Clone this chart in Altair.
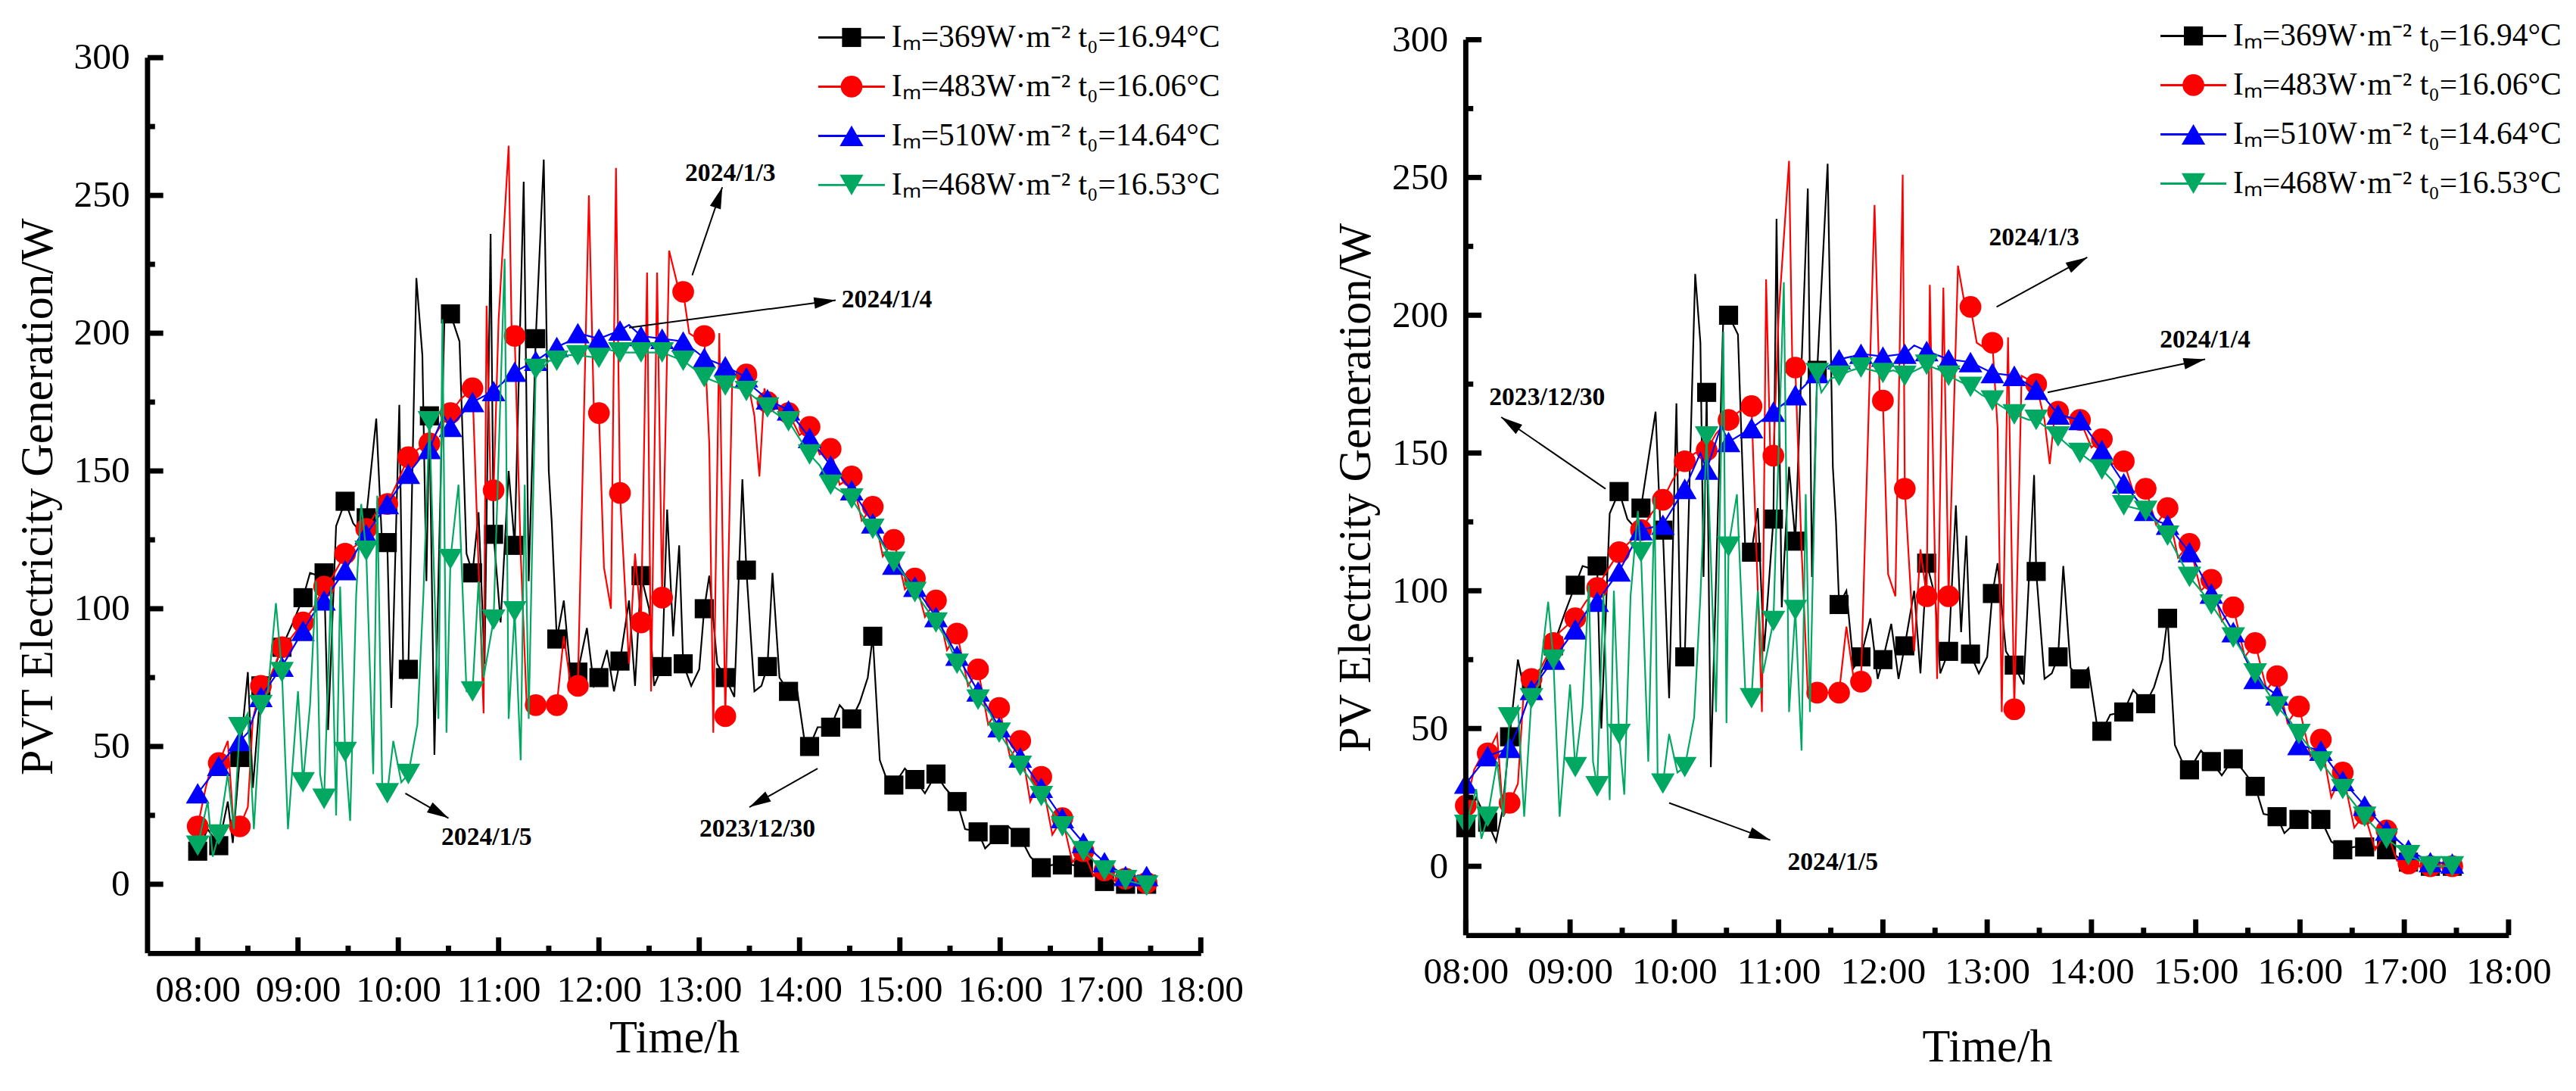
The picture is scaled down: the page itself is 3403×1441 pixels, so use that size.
import math
import altair as alt
import pandas as pd

FONT = "Liberation Serif"

# ---------------- data ----------------
MARKER_T = [8.00, 8.21, 8.42, 8.63, 8.84, 9.05, 9.26, 9.47, 9.68, 9.89,
            10.10, 10.31, 10.52, 10.74, 10.95, 11.16, 11.37, 11.58, 11.79, 12.00,
            12.21, 12.42, 12.63, 12.84, 13.05, 13.26, 13.47, 13.68, 13.89, 14.10,
            14.31, 14.52, 14.73, 14.94, 15.15, 15.36, 15.57, 15.78, 15.99, 16.20,
            16.41, 16.62, 16.83, 17.04, 17.25, 17.46]

LEGEND_LABELS = ["Iₘ=369W·m⁻²  t₀=16.94°C",
                 "Iₘ=483W·m⁻²  t₀=16.06°C",
                 "Iₘ=510W·m⁻²  t₀=14.64°C",
                 "Iₘ=468W·m⁻²  t₀=16.53°C"]

# ---- PVT (left) markers ----
PVT_BLACK = [12, 14, 46, 72, 86, 104, 113, 139, 133, 124, 78, 170, 207, 113, 127, 123, 198, 89, 77, 75,
             81, 112, 79, 80, 100, 75, 114, 79, 70, 50, 57, 60, 90, 36, 38, 40, 30, 19, 18, 17,
             6, 7, 6, 1, 0, 0]
PVT_RED = [21, 44, 21, 72, 86, 95, 108, 120, 129, 138, 155, 160, 171, 180, 143, 199, 65, 65, 72, 171,
           142, 95, 104, 215, 199, 61, 185, 175, 171, 166, 158, 148, 137, 125, 111, 103, 91, 78, 64, 52,
           39, 24, 12, 5, 2, 0.5]
PVT_BLUE = [33, 43, 52, 68, 79, 92, 103, 114, 127, 138, 149, 158, 166, 175, 179, 186, 190, 195, 200, 198,
            201, 199, 198, 197, 191, 188, 184, 176, 172, 162, 152, 143, 131, 116, 108, 97, 83, 70, 57, 46,
            35, 24, 15, 8, 3, 3]
PVT_GREEN = [14, 18, 57, 65, 77, 37, 31, 48, 121, 33, 40, 168, 118, 70, 96, 99, 187, 190, 192, 191,
             193, 193, 193, 190, 184, 181, 179, 173, 168, 156, 145, 140, 129, 117, 106, 95, 80, 67, 55, 43,
             32, 21, 12, 5, 1.5, -0.5]

# ---- PVT (left) extra line points between markers (time, value) ----
PVT_BLACK_X = [(8.10, 20), (8.30, 30), (8.35, 15), (8.50, 77), (8.55, 35), (8.72, 74), (8.95, 95), (9.12, 113),
               (9.20, 112), (9.30, 56), (9.38, 130), (9.55, 131), (9.62, 128), (9.78, 169), (9.84, 122),
               (9.93, 64), (10.01, 174), (10.05, 75), (10.18, 220), (10.24, 192), (10.28, 110), (10.36, 47),
               (10.46, 206), (10.61, 197), (10.68, 120), (10.80, 135), (10.86, 80), (10.92, 236), (11.02, 95),
               (11.10, 150), (11.25, 255), (11.30, 110), (11.45, 263), (11.50, 150), (11.53, 131), (11.65, 103),
               (11.72, 75), (11.88, 93), (11.95, 72), (12.08, 85), (12.15, 70), (12.30, 103), (12.36, 72),
               (12.50, 100), (12.55, 72), (12.68, 136), (12.74, 90), (12.80, 123), (12.92, 72), (13.00, 78),
               (13.10, 112), (13.18, 80), (13.35, 68), (13.43, 147), (13.55, 70), (13.62, 72), (13.73, 113),
               (13.80, 75), (13.97, 72), (14.05, 52), (14.18, 57), (14.40, 65), (14.60, 66), (14.68, 75),
               (14.80, 45), (14.87, 38), (15.05, 42), (15.25, 33), (15.45, 35), (15.65, 20), (15.85, 13),
               (16.08, 21), (16.30, 10), (16.52, 7), (16.72, 7), (16.95, 3), (17.15, 0)]
PVT_RED_X = [(8.08, 35), (8.15, 45), (8.30, 52), (8.36, 20), (8.50, 28), (8.55, 60), (8.72, 75), (8.90, 88),
             (9.15, 100), (9.35, 112), (9.58, 123), (9.78, 135), (9.98, 145), (10.20, 158), (10.40, 165),
             (10.62, 176), (10.85, 62), (10.88, 210), (10.92, 143), (11.00, 205), (11.10, 268), (11.13, 200),
             (11.22, 120), (11.28, 65), (11.48, 65), (11.65, 90), (11.72, 72), (11.90, 250), (11.95, 171),
             (12.05, 115), (12.12, 100), (12.17, 260), (12.30, 80), (12.36, 120), (12.48, 222), (12.52, 70),
             (12.58, 222), (12.70, 230), (12.78, 218), (12.90, 200), (12.98, 198), (13.10, 160), (13.14, 55),
             (13.20, 200), (13.33, 185), (13.55, 170), (13.60, 148), (13.65, 180), (13.80, 173), (14.00, 163),
             (14.20, 156), (14.40, 145), (14.62, 132), (14.83, 119), (15.05, 107), (15.25, 97), (15.47, 85),
             (15.68, 72), (15.88, 58), (16.10, 46), (16.30, 30), (16.52, 18), (16.72, 8), (16.93, 3),
             (17.15, 1), (17.35, 0)]
PVT_BLUE_X = [(8.50, 55), (9.15, 98), (10.25, 156), (10.45, 170), (11.70, 197), (12.30, 203), (13.55, 180),
              (14.65, 136)]
PVT_GREEN_X = [(8.10, 30), (8.15, 10), (8.30, 40), (8.36, 20), (8.50, 62), (8.56, 20), (8.70, 70), (8.78, 102),
               (8.90, 20), (9.00, 70), (9.12, 65), (9.18, 110), (9.22, 40), (9.33, 108), (9.38, 25), (9.42, 108),
               (9.52, 23), (9.58, 105), (9.63, 138), (9.75, 40), (9.79, 141), (9.84, 35), (9.95, 52), (10.03, 37),
               (10.19, 58), (10.25, 105), (10.40, 60), (10.44, 205), (10.48, 55), (10.60, 145), (10.68, 70),
               (10.80, 110), (10.85, 75), (11.06, 227), (11.10, 60), (11.22, 45), (11.26, 145), (11.30, 60),
               (11.41, 186), (11.50, 190), (11.70, 192), (12.10, 194), (12.55, 193), (12.95, 187), (13.40, 180),
               (13.80, 170), (14.20, 152), (14.62, 134), (15.05, 112), (15.48, 88), (15.90, 62), (16.30, 38),
               (16.72, 16), (17.15, 3)]

# ---- PV (right) markers ----
PV_BLACK = [14, 16, 47, 67, 80, 102, 109, 136, 130, 122, 76, 172, 200, 114, 126, 118, 180, 95, 76, 75,
            80, 110, 78, 77, 99, 73, 107, 76, 68, 49, 56, 59, 90, 35, 38, 39, 29, 18, 17, 17,
            6, 7, 6, 1.5, 0, 0]
PV_RED = [22, 41, 23, 68, 81, 90, 101, 114, 122, 133, 147, 151, 162, 167, 149, 181, 63, 63, 67, 169,
          137, 98, 98, 203, 190, 57, 175, 165, 162, 155, 147, 137, 130, 117, 104, 94, 81, 69, 58, 46,
          34, 19, 13, 1, 0, 0]
PV_BLUE = [30, 40, 43, 64, 75, 86, 96, 107, 122, 124, 137, 144, 154, 159, 165, 171, 179, 184, 186, 185,
           186, 187, 184, 183, 179, 178, 173, 164, 162, 151, 139, 129, 124, 114, 99, 85, 68, 62, 44, 42,
           31, 22, 13, 6, 1.5, 1]
PV_GREEN = [15, 18, 54, 61, 75, 36, 29, 48, 114, 30, 36, 156, 116, 61, 89, 93, 179, 178, 181, 179,
            178, 182, 178, 174, 169, 164, 162, 156, 150, 144, 131, 129, 120, 105, 95, 83, 70, 58, 48, 38,
            28, 18, 10, 4, 0, 0]

PV_BLACK_X = [(8.10, 25), (8.29, 9), (8.35, 20), (8.50, 75), (8.56, 64), (8.72, 70), (8.95, 92), (9.12, 109),
              (9.20, 108), (9.30, 50), (9.38, 128), (9.55, 126), (9.62, 123), (9.82, 165), (9.87, 120),
              (9.95, 61), (10.02, 168), (10.06, 75), (10.20, 215), (10.25, 190), (10.28, 105), (10.35, 36),
              (10.47, 200), (10.61, 193), (10.68, 115), (10.80, 130), (10.86, 78), (10.98, 235), (11.03, 94),
              (11.10, 145), (11.28, 246), (11.32, 105), (11.47, 255), (11.52, 145), (11.55, 125), (11.65, 100),
              (11.72, 72), (11.88, 90), (11.95, 68), (12.08, 88), (12.15, 68), (12.30, 100), (12.36, 70),
              (12.50, 98), (12.55, 70), (12.70, 131), (12.75, 85), (12.80, 120), (12.92, 70), (13.00, 76),
              (13.10, 110), (13.18, 78), (13.35, 66), (13.45, 142), (13.55, 68), (13.62, 70), (13.73, 109),
              (13.80, 72), (13.97, 72), (14.05, 52), (14.18, 55), (14.40, 64), (14.60, 65), (14.68, 75),
              (14.80, 44), (14.87, 38), (15.05, 42), (15.25, 33), (15.45, 35), (15.65, 19), (15.85, 12),
              (16.08, 20), (16.30, 9), (16.52, 7), (16.72, 7), (16.95, 3), (17.15, 0)]
PV_RED_X = [(8.08, 35), (8.15, 40), (8.30, 48), (8.36, 18), (8.50, 30), (8.55, 60), (8.72, 72), (8.90, 85),
            (9.15, 96), (9.35, 107), (9.58, 118), (9.78, 128), (9.98, 140), (10.20, 150), (10.40, 157),
            (10.62, 165), (10.84, 56), (10.88, 213), (10.92, 150), (11.00, 200), (11.10, 256), (11.13, 185),
            (11.22, 115), (11.28, 63), (11.48, 63), (11.65, 87), (11.72, 68), (11.92, 240), (11.97, 170),
            (12.05, 106), (12.12, 98), (12.19, 251), (12.30, 78), (12.36, 115), (12.45, 211), (12.52, 68),
            (12.58, 210), (12.72, 218), (12.78, 205), (12.90, 190), (12.98, 188), (13.10, 159), (13.14, 56),
            (13.20, 192), (13.33, 178), (13.55, 162), (13.60, 146), (13.65, 165), (13.80, 162), (14.00, 152),
            (14.20, 146), (14.40, 136), (14.62, 124), (14.83, 112), (15.05, 100), (15.25, 89), (15.47, 76),
            (15.68, 64), (15.88, 52), (16.10, 40), (16.30, 25), (16.52, 14), (16.72, 6), (16.93, 2),
            (17.15, 0)]
PV_BLUE_X = [(8.50, 50), (9.15, 92), (10.25, 150), (10.45, 160), (11.70, 185), (12.30, 189), (13.55, 170),
             (14.65, 125)]
PV_GREEN_X = [(8.10, 28), (8.15, 10), (8.30, 38), (8.36, 18), (8.50, 58), (8.56, 18), (8.70, 66), (8.79, 96),
              (8.90, 18), (9.00, 66), (9.12, 58), (9.18, 102), (9.22, 38), (9.32, 99), (9.38, 24), (9.42, 100),
              (9.52, 26), (9.58, 98), (9.65, 129), (9.75, 38), (9.81, 134), (9.84, 32), (9.95, 48), (10.03, 34),
              (10.19, 54), (10.25, 98), (10.40, 56), (10.47, 194), (10.50, 52), (10.60, 135), (10.68, 64),
              (10.80, 100), (10.85, 70), (11.05, 212), (11.10, 56), (11.22, 42), (11.26, 135), (11.30, 56),
              (11.41, 172), (11.50, 177), (11.70, 180), (12.10, 180), (12.55, 180), (12.95, 171), (13.40, 162),
              (13.80, 152), (14.20, 140), (14.62, 125), (15.05, 100), (15.48, 76), (15.90, 53), (16.30, 33),
              (16.72, 14), (17.15, 2)]

# ---- annotations (label, text position, arrow tail, arrow head) ----
ANN_LABELS = ["2024/1/3", "2024/1/4", "2024/1/5", "2023/12/30"]
PVT_ANN_TEXT = [(13.31, 258), (14.87, 212), (10.88, 17), (13.58, 20)]
PVT_ANN_TAIL = [(12.93, 221), (12.30, 202), (10.07, 33), (14.18, 42)]
PVT_ANN_HEAD = [(13.23, 253), (14.36, 212), (10.50, 24), (13.50, 28)]
PV_ANN_TEXT = [(13.45, 228), (15.09, 191), (11.52, 1.5), (8.78, 170)]
PV_ANN_TAIL = [(13.09, 203), (13.58, 172), (9.95, 23), (9.34, 137)]
PV_ANN_HEAD = [(13.96, 221), (15.09, 184), (10.92, 9.5), (8.34, 163)]

X_MAJOR = [8, 9, 10, 11, 12, 13, 14, 15, 16, 17, 18]
X_MINOR = [8.5, 9.5, 10.5, 11.5, 12.5, 13.5, 14.5, 15.5, 16.5, 17.5]
Y_MAJOR = [0, 50, 100, 150, 200, 250, 300]
Y_MINOR = [25, 75, 125, 175, 225, 275]
Y_AXIS_SPAN = [-25, 300]

COLORS = ["#000000", "#FF0000", "#0000FF", "#00A862"]
SHAPES = ["square", "circle", "triangle-up", "triangle-down"]
SIZES = [650, 840, 1000, 1000]
ARROW_PATH = "M0,0L0.45,1.7L-0.45,1.7Z"
AXIS_W = 7


def panel(markers, extras, ann_text, ann_tail, ann_head, title, xdom, ydom, W, H,
          leg_x, leg_y, x_title_pad):
    xs = alt.Scale(domain=xdom, nice=False, zero=False)
    ys = alt.Scale(domain=ydom, nice=False, zero=False)
    xax = alt.Axis(values=X_MAJOR, labelExpr="(datum.value < 10 ? '0' : '') + datum.value + ':00'",
                   ticks=False, grid=False, title="Time/h", labelPadding=24, titlePadding=x_title_pad,
                   labelOverlap=False, labelFlush=False)
    yax = alt.Axis(values=Y_MAJOR, ticks=False, grid=False, domain=False, title=title, labelPadding=24,
                   titlePadding=16, labelOverlap=False, labelFlush=False)
    layers = []
    first = True
    for i in range(4):
        mk = pd.DataFrame({"t": MARKER_T, "v": markers[i]})
        ex = pd.DataFrame(extras[i], columns=["t", "v"])
        ln = pd.concat([mk, ex]).sort_values("t").reset_index(drop=True)
        if first:
            enc_x = alt.X("t:Q", scale=xs, axis=xax)
            enc_y = alt.Y("v:Q", scale=ys, axis=yax)
            first = False
        else:
            enc_x = alt.X("t:Q", scale=xs)
            enc_y = alt.Y("v:Q", scale=ys)
        layers.append(alt.Chart(ln).mark_line(color=COLORS[i], strokeWidth=2.2).encode(
            x=enc_x, y=enc_y, order="t:Q"))
        layers.append(alt.Chart(mk).mark_point(shape=SHAPES[i], filled=True, color=COLORS[i],
                                               size=SIZES[i], opacity=1).encode(
            x=alt.X("t:Q", scale=xs), y=alt.Y("v:Q", scale=ys)))
    # y axis line (from bottom of scale to 300)
    layers.append(alt.Chart(pd.DataFrame({"a": [Y_AXIS_SPAN[0]], "b": [Y_AXIS_SPAN[1]]})).mark_rule(
        color="black", strokeWidth=AXIS_W).encode(y=alt.Y("a:Q", scale=ys), y2="b:Q", x=alt.value(0)))
    # inward ticks
    layers.append(alt.Chart(pd.DataFrame({"t": X_MAJOR})).mark_rule(color="black", strokeWidth=AXIS_W).encode(
        x=alt.X("t:Q", scale=xs), y=alt.value(H), y2=alt.value(H - 21)))
    layers.append(alt.Chart(pd.DataFrame({"t": X_MINOR})).mark_rule(color="black", strokeWidth=AXIS_W).encode(
        x=alt.X("t:Q", scale=xs), y=alt.value(H), y2=alt.value(H - 10)))
    layers.append(alt.Chart(pd.DataFrame({"v": Y_MAJOR})).mark_rule(color="black", strokeWidth=AXIS_W).encode(
        y=alt.Y("v:Q", scale=ys), x=alt.value(0), x2=alt.value(21)))
    layers.append(alt.Chart(pd.DataFrame({"v": Y_MINOR})).mark_rule(color="black", strokeWidth=AXIS_W).encode(
        y=alt.Y("v:Q", scale=ys), x=alt.value(0), x2=alt.value(10)))
    # annotations
    pxh = W / (xdom[1] - xdom[0])
    pxv = H / (ydom[1] - ydom[0])
    rows = []
    for lab, (tt, tv), (t1, v1), (t2, v2) in zip(ANN_LABELS, ann_text, ann_tail, ann_head):
        dx = (t2 - t1) * pxh
        dy = -(v2 - v1) * pxv
        ang = math.degrees(math.atan2(dx, -dy)) % 360
        rows.append({"label": lab, "tt": tt, "tv": tv, "t1": t1, "v1": v1, "t2": t2, "v2": v2, "ang": ang})
    ann = pd.DataFrame(rows)
    layers.append(alt.Chart(ann).mark_rule(color="black", strokeWidth=2).encode(
        x=alt.X("t1:Q", scale=xs), y=alt.Y("v1:Q", scale=ys), x2="t2:Q", y2="v2:Q"))
    layers.append(alt.Chart(ann).mark_point(shape=ARROW_PATH, filled=True, color="black", size=1150,
                                            opacity=1).encode(
        x=alt.X("t2:Q", scale=xs), y=alt.Y("v2:Q", scale=ys), angle=alt.Angle("ang:Q", scale=None)))
    layers.append(alt.Chart(ann).mark_text(font=FONT, fontSize=34, fontWeight="bold", color="black").encode(
        x=alt.X("tt:Q", scale=xs), y=alt.Y("tv:Q", scale=ys), text="label:N"))
    # legend
    for i in range(4):
        d = pd.DataFrame({"label": [LEGEND_LABELS[i]]})
        yy = leg_y[0] + i * leg_y[1]
        layers.append(alt.Chart(d).mark_rule(color=COLORS[i], strokeWidth=3).encode(
            x=alt.value(leg_x[0]), x2=alt.value(leg_x[1]), y=alt.value(yy)))
        layers.append(alt.Chart(d).mark_point(shape=SHAPES[i], filled=True, color=COLORS[i], size=SIZES[i],
                                              opacity=1).encode(
            x=alt.value((leg_x[0] + leg_x[1]) / 2), y=alt.value(yy)))
        layers.append(alt.Chart(d).mark_text(font=FONT, fontSize=42, align="left", baseline="middle",
                                             color="black").encode(
            x=alt.value(leg_x[2]), y=alt.value(yy), text="label:N"))
    return alt.layer(*layers).properties(width=W, height=H)


left = panel([PVT_BLACK, PVT_RED, PVT_BLUE, PVT_GREEN],
             [PVT_BLACK_X, PVT_RED_X, PVT_BLUE_X, PVT_GREEN_X],
             PVT_ANN_TEXT, PVT_ANN_TAIL, PVT_ANN_HEAD,
             "PVT Electricity Generation/W", [7.5, 18], [-25, 306.52], 1407, 1220,
             (896, 985, 994), (-3, 65.7), 10)
right = panel([PV_BLACK, PV_RED, PV_BLUE, PV_GREEN],
              [PV_BLACK_X, PV_RED_X, PV_BLUE_X, PV_GREEN_X],
              PV_ANN_TEXT, PV_ANN_TAIL, PV_ANN_HEAD,
              "PV Electricity Generation/W", [8, 18], [-25, 300], 1393, 1196,
              (928, 1016, 1025), (-5, 65.7), 46)

chart = alt.hconcat(left, right, spacing=120).properties(
    padding={"left": 12, "top": 11, "right": 0, "bottom": 0}
).configure_view(stroke=None).configure_axis(
    labelFont=FONT, titleFont=FONT, labelFontSize=50, titleFontSize=61, titleFontWeight="normal",
    labelColor="black", titleColor="black", domainColor="black", domainWidth=AXIS_W
)

chart.save("out.html", embed_options={"renderer": "svg", "actions": False})
